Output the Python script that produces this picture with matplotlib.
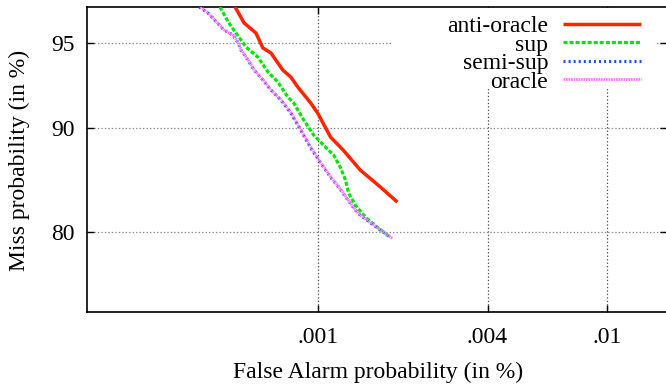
import math
import numpy as np
import matplotlib
matplotlib.use("Agg")
import matplotlib.pyplot as plt
from matplotlib.ticker import FixedLocator, FixedFormatter, NullLocator
from matplotlib.patches import Rectangle

# ---------------- data (values in %) ----------------
anti_fa = [0.000492, 0.000532, 0.000590, 0.000626, 0.000671, 0.000743, 0.000796, 0.000845,
           0.000943, 0.001000, 0.001115, 0.00124, 0.00143, 0.00169, 0.00194]
anti_miss = [96.39, 95.82, 95.42, 94.78, 94.55, 93.70, 93.32, 92.75,
             91.77, 91.10, 89.34, 88.29, 86.53, 84.90, 83.36]

sup_fa = [0.000431, 0.000463, 0.000487, 0.000518, 0.000541, 0.000600, 0.000654, 0.000712,
          0.000776, 0.000816, 0.000889, 0.000967, 0.00105, 0.001144, 0.00121, 0.001264,
          0.001296, 0.001374, 0.001492, 0.001647, 0.00183]
sup_miss = [96.39, 95.86, 95.54, 95.13, 94.82, 94.35, 93.60, 93.05,
            92.15, 91.77, 90.61, 89.50, 88.70, 87.87, 86.80, 85.58,
            84.30, 83.02, 81.71, 80.56, 79.38]

semi_fa = [0.000359, 0.000388, 0.000417, 0.000447, 0.000483, 0.000505, 0.000518, 0.000550,
           0.000580, 0.000626, 0.000671, 0.000731, 0.000796, 0.000866, 0.000943, 0.001026,
           0.001115, 0.001193, 0.00129, 0.00140, 0.00156, 0.00169, 0.00183]
semi_miss = [96.39, 96.18, 95.86, 95.54, 95.34, 95.00, 94.68, 94.21,
             93.70, 93.16, 92.57, 91.96, 91.10, 89.88, 88.46, 87.17,
             85.87, 84.90, 83.57, 82.16, 81.03, 80.21, 79.38]

oracle_fa = [0.000363, 0.000392, 0.000420, 0.000450, 0.000486, 0.000507, 0.000521, 0.000553,
             0.000583, 0.000629, 0.000675, 0.000735, 0.000800, 0.000870, 0.000948, 0.001030,
             0.001120, 0.001198, 0.001295, 0.001405, 0.00157, 0.00170, 0.00186]
oracle_miss = [96.39, 96.15, 95.84, 95.52, 95.32, 94.98, 94.66, 94.19,
               93.68, 93.14, 92.55, 91.94, 91.08, 89.86, 88.44, 87.15,
               85.85, 84.88, 83.55, 82.14, 81.01, 80.18, 79.25]

series_labels = ["anti-oracle", "sup", "semi-sup", "oracle"]

x_ticks = [0.001, 0.004, 0.01]
x_ticklabels = [".001", ".004", ".01"]
y_ticks = [80, 90, 95]
y_ticklabels = ["80", "90", "95"]

# ---------------- normal deviate scale ----------------
_a = [-3.969683028665376e+01, 2.209460984245205e+02, -2.759285104469687e+02,
      1.383577518672690e+02, -3.066479806614716e+01, 2.506628277459239e+00]
_b = [-5.447609879822406e+01, 1.615858368580409e+02, -1.556989798598866e+02,
      6.680131188771972e+01, -1.328068155288572e+01]
_c = [-7.784894002430293e-03, -3.223964580411365e-01, -2.400758277161838e+00,
      -2.549732539343734e+00, 4.374664141464968e+00, 2.938163982698783e+00]
_d = [7.784695709041462e-03, 3.224671290700398e-01, 2.445134137142996e+00,
      3.754408661907416e+00]


def _ppf(p):
    p = np.asarray(p, dtype=float)
    shape = p.shape
    p = np.clip(np.atleast_1d(p).ravel(), 1e-300, 1 - 1e-16)
    out = np.empty_like(p)
    plow = 0.02425
    lo = p < plow
    hi = p > 1 - plow
    mid = ~(lo | hi)
    q = np.sqrt(-2 * np.log(p[lo]))
    out[lo] = (((((_c[0]*q+_c[1])*q+_c[2])*q+_c[3])*q+_c[4])*q+_c[5]) / \
        ((((_d[0]*q+_d[1])*q+_d[2])*q+_d[3])*q+1)
    q = p[mid] - 0.5
    r = q * q
    out[mid] = (((((_a[0]*r+_a[1])*r+_a[2])*r+_a[3])*r+_a[4])*r+_a[5])*q / \
        (((((_b[0]*r+_b[1])*r+_b[2])*r+_b[3])*r+_b[4])*r+1)
    q = np.sqrt(-2 * np.log(1 - p[hi]))
    out[hi] = -(((((_c[0]*q+_c[1])*q+_c[2])*q+_c[3])*q+_c[4])*q+_c[5]) / \
        ((((_d[0]*q+_d[1])*q+_d[2])*q+_d[3])*q+1)
    return out.reshape(shape)


_erfc = np.vectorize(math.erfc, otypes=[float])


def _cdf(z):
    z = np.asarray(z, dtype=float)
    return 0.5 * _erfc(-z / math.sqrt(2.0))


def fwd(v):
    return _ppf(np.asarray(v, dtype=float) / 100.0)


def inv(z):
    return _cdf(z) * 100.0


# ---------------- figure ----------------
plt.rcParams['font.family'] = ['Liberation Serif', 'DejaVu Serif']
plt.rcParams['lines.scale_dashes'] = False

fig = plt.figure(figsize=(6.66, 3.86), dpi=100)
ax = fig.add_axes([87/666, 1 - 312/386, 580/666, 305/386])
ax.set_xscale('function', functions=(fwd, inv))
ax.set_yscale('function', functions=(fwd, inv))

ax.set_xlim(1.30e-4, 0.01556)
ax.set_ylim(69.2, 96.39)

ax.xaxis.set_major_locator(FixedLocator(x_ticks))
ax.xaxis.set_major_formatter(FixedFormatter(x_ticklabels))
ax.yaxis.set_major_locator(FixedLocator(y_ticks))
ax.yaxis.set_major_formatter(FixedFormatter(y_ticklabels))
ax.xaxis.set_minor_locator(NullLocator())
ax.yaxis.set_minor_locator(NullLocator())

ax.tick_params(direction='in', top=True, right=True, length=5, width=1,
               labelsize=17, color='black')
ax.tick_params(axis='x', pad=11)
ax.tick_params(axis='y', pad=9)

ax.grid(True, axis='y', linestyle=(0, (1, 1.5)), color='#8a8a8a', linewidth=0.9)
ax.grid(True, axis='x', linestyle=(0, (1, 1.5)), color='#555555', linewidth=0.9)

for s in ax.spines.values():
    s.set_linewidth(1.2)

# white key box hiding the grid behind the legend
ax.add_patch(Rectangle(((393 - 87) / 580, (312 - 89) / 305), (655 - 393) / 580, 81 / 305,
                       transform=ax.transAxes, facecolor='white', edgecolor='none',
                       zorder=1.8))

ax.plot(anti_fa, anti_miss, color='#ff2300', linewidth=2.5, solid_capstyle='butt',
        label=series_labels[0], zorder=3)
ax.plot(sup_fa, sup_miss, color='#00e800', linewidth=2.3, dashes=(2.9, 1.45),
        label=series_labels[1], zorder=3)
ax.plot(semi_fa, semi_miss, color='#1a4cff', linewidth=2.2, dashes=(1.45, 2.2),
        label=series_labels[2], zorder=3)
ax.plot(oracle_fa, oracle_miss, color='#ff78ff', linewidth=2.1, dashes=(1.2, 0.6),
        label=series_labels[3], zorder=3)

ax.set_xlabel("False Alarm probability (in %)", fontsize=17)
ax.set_ylabel("Miss probability (in %)", fontsize=17)
ax.xaxis.set_label_coords(0.502, -0.197)
ax.xaxis.label.set_va('center')
ax.yaxis.set_label_coords(-0.116, 0.498)
ax.yaxis.label.set_va('center')

leg = ax.legend(loc='upper right', bbox_to_anchor=(0.9638, 0.987), markerfirst=False,
                frameon=False, fontsize=17, handlelength=3.3, handletextpad=0.65,
                labelspacing=-0.13, borderpad=0.2, borderaxespad=0)

fig.savefig("out.png", dpi=100)
